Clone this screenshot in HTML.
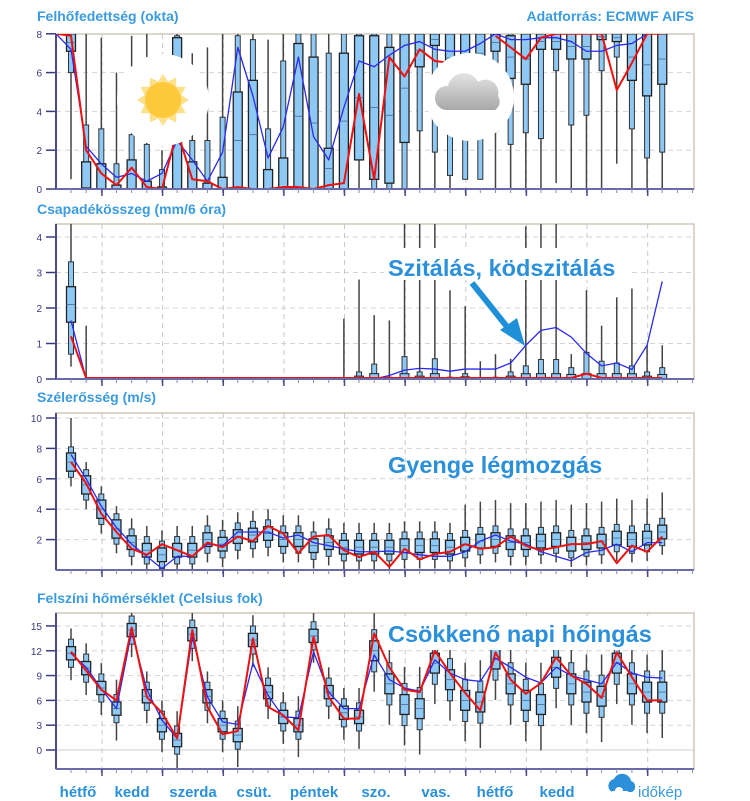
<!DOCTYPE html>
<html><head><meta charset="utf-8"><style>
html,body{margin:0;padding:0;background:#fff;}
svg{display:block;font-family:"Liberation Sans",sans-serif;}
</style></head><body>
<svg id="s" width="750" height="801" viewBox="0 0 750 801" xmlns="http://www.w3.org/2000/svg">
<g id="g"></g>
<g id="txt" font-weight="bold" fill="#3b9be0">
<text x="37" y="21" font-size="14">Felhőfedettség (okta)</text>
<text x="694" y="21" font-size="14" text-anchor="end">Adatforrás: ECMWF AIFS</text>
<text x="37" y="214" font-size="14">Csapadékösszeg (mm/6 óra)</text>
<text x="37" y="402" font-size="14">Szélerősség (m/s)</text>
<text x="37" y="603" font-size="14">Felszíni hőmérséklet (Celsius fok)</text>
</g>
</svg>
<script>
(function(){
var NS="http://www.w3.org/2000/svg",G=document.getElementById('g'),CUR=G;
function el(t,a,p){var e=document.createElementNS(NS,t);for(var q in a)e.setAttribute(q,a[q]);(p||CUR).appendChild(e);return e;}
function X(k){return 71+15.16*k;}
var L=56,R=694;
var P=[
 {top:34,bot:189,z:189,s:19.4,ticks:[0,2,4,6,8]},
 {top:224,bot:379,z:379,s:35.5,ticks:[0,1,2,3,4]},
 {top:413,bot:570,z:570,s:15.2,ticks:[2,4,6,8,10]},
 {top:613,bot:769,z:750,s:8.27,ticks:[0,3,6,9,12,15]}
];
var days=[102,162.6,223.3,283.9,344.5,405.2,465.8,526.4,587,647.7];
var DEFS=el('defs',{},G);
P.forEach(function(p,pi){
 el('rect',{x:L,y:p.top,width:R-L,height:p.bot-p.top,fill:'#fff',stroke:'#cfc7b8','stroke-width':1.5},G);
 p.ticks.forEach(function(v){var y=p.z-v*p.s;
  if(v!=0||pi==3)el('line',{x1:L,x2:R,y1:y,y2:y,stroke:(v==0&&pi==3)?'#ccc':'#d4d4d4','stroke-dasharray':(v==0&&pi==3)?'':'5,4','stroke-width':1},G);
  el('line',{x1:46,x2:L,y1:y,y2:y,stroke:'#3b3b80','stroke-width':1.5},G);
  var t=el('text',{x:42,y:y+4,'font-size':10,'text-anchor':'end',fill:'#3b3b80'},G);t.textContent=v;});
 days.forEach(function(d){el('line',{x1:d,x2:d,y1:p.top,y2:p.bot,stroke:'#c8c8c8','stroke-dasharray':'5,4'},G);});
 var cp=el('clipPath',{id:'c'+pi},DEFS);el('rect',{x:L,y:p.top,width:R-L,height:p.bot-p.top},cp);
 p.g=el('g',{'clip-path':'url(#c'+pi+')'},G);
});
function axes(){P.forEach(function(p){
 el('line',{x1:L,x2:L,y1:p.top,y2:p.bot,stroke:'#4a4a88','stroke-width':2},G);
 el('line',{x1:L,x2:R,y1:p.bot,y2:p.bot,stroke:'#6a6aa8','stroke-width':2},G);
 for(var i=-1;i<42;i++){var x=X(i);if(x<L||x>R)continue;el('line',{x1:x,x2:x,y1:p.bot,y2:p.bot+4,stroke:'#8a8ab8','stroke-width':1},G);}
 days.forEach(function(d){el('line',{x1:d,x2:d,y1:p.bot,y2:p.bot+7,stroke:'#4a4a88','stroke-width':1.5},G);});
});}
function box(p,k,wl,wh,nl,nh,ql,qh,md){
 var x=X(k),Y=function(v){return P[p].z-v*P[p].s;};
 el('line',{x1:x,x2:x,y1:Y(wl),y2:Y(wh),stroke:'#444','stroke-width':1.5});
 el('rect',{x:x-2.5,y:Y(nh),width:5,height:Math.max(1,Y(nl)-Y(nh)),fill:'#8ec8f5',stroke:'#333','stroke-width':1});
 el('rect',{x:x-4.5,y:Y(qh),width:9,height:Math.max(1,Y(ql)-Y(qh)),fill:'#8ec8f5',stroke:'#222','stroke-width':1.3});
 if(md!=null)el('line',{x1:x-4.5,x2:x+4.5,y1:Y(md),y2:Y(md),stroke:'#4a6a8a','stroke-width':0.8});
}
function line(p,arr,col,w,start){var pts=[];if(start!=null)pts.push(L+','+(P[p].z-start*P[p].s));
 arr.forEach(function(v,k){if(v!=null)pts.push(X(k)+','+(P[p].z-v*P[p].s));});
 el('polyline',{points:pts.join(' '),fill:'none',stroke:col,'stroke-width':w,'stroke-linejoin':'round'});}
// CLOUD
CUR=P[0].g;
var cq=[[7.1,8,6],[0.05,1.4,3.3],[0,1.3,3.1],[0,0.2,1.3],[0,1.5,2.8],[0,0.4,2.3],[0,0.1,1.0],[0,7.8,7.9],[0,1.4,2.5],[0,0.3,2.5],[0,0.6,3.7],[0,5,7.9],[0,5.6,7.7],[0,1,3.1],[0,1.6,6.6],[0,7.5,8],[0,6.8,8],[0,2.1,7],[0,7,8],[1.5,7.9,8],
[0.5,7.9,8],[0.3,7.3,8],[2.4,8,8],[6.3,8,8],[7.4,8,8],[5.5,8,8],[4.5,8,8],[6,8,8],[7.1,8,8],[5.7,7.9,8],[5.4,8,8],[7.2,8,8],[7.2,8,8],[6.7,8,8],[6.7,8,8],[7.7,8,8],[7.6,8,8],[5.6,8,8],[4.8,8,8],[5.4,8,8]];
var cn=[6,0,0,0,0,0,0,0,0,0,0,0,0,0,0,0,0,0,0,0.2,0,0,0,3,1.9,0.7,0.5,0.5,3,2.3,2.9,2.6,6.1,3.3,3.8,6.1,6.8,3.1,1.6,1.9];
var cw=[0.5,0,0,0,0,0,0,0,0,0,0,0,0,0,0,0,0,0,0,0,0,0,0,0,0,0,0.5,1,0,0,0,0,0.3,0,0,0,1.3,0,0,0];
var cwh=[8,8,7.8,6,7.9,8,2,8,7,7.3,8,8,8,7.7,8,8,8,8,8,8];
cq.forEach(function(q,k){var nl=(k<20)?q[0]:cn[k];var nh=(k<20)?q[2]:8;if(k==0){nl=6;nh=8;}
 box(0,k,cw[k],k<20?cwh[k]:8,Math.min(nl,q[0]),nh,q[0],q[1],q[1]>2?(q[0]+q[1])/2:null);});
var cr=[7.9,2.0,0.8,0.2,1.1,0.1,0,3,0.5,0.4,0,0.1,0,0,0.1,0.1,0,0.2,0.3,4.9,0.5,6.8,5.8,7.2,6.6,6.5,null,null,7.9,7.3,6.7,7.8,8,8,8,8,5.1,6.5,8,8];
var cb=[7.2,2.2,1.3,0.6,0.8,0.4,0.8,2.5,1.5,0.4,1.9,7.3,4.8,1.6,3.2,6.8,2.7,1.5,4.2,6.6,6.3,6.9,7.4,7.6,7.2,7.1,7.1,7.5,8,7.7,7.7,7.8,7.8,7.6,7.1,7.1,7.4,7.5,8,8];
line(0,cb,'#2a2aee',1.3,8);
line(0,cr.slice(0,26),'#ee1111',2,8);
el('polyline',{points:cr.map(function(v,k){return v==null?null:X(k)+','+(189-v*19.4);}).slice(28).join(' '),fill:'none',stroke:'#ee1111','stroke-width':2});
var sp=[];for(var i=0;i<24;i++){var a=i*Math.PI/12,r=i%2?19:26;sp.push((163+r*Math.cos(a))+','+(100+r*Math.sin(a)));}
var gd=el('linearGradient',{id:'cg',x1:0,y1:0,x2:0,y2:1},DEFS);
el('stop',{offset:0,'stop-color':'#e4e4e4'},gd);el('stop',{offset:1,'stop-color':'#a8a8a8'},gd);
el('circle',{cx:163,cy:100,r:46,fill:'#fff'});
el('polygon',{points:sp.join(' '),fill:'#fde08a'});
el('circle',{cx:163,cy:100,r:18,fill:'#fcc93a'});
el('circle',{cx:470,cy:97,r:44,fill:'#fff'});
el('path',{d:'M446,110 a12,12 0 0 1 2,-24 a16,16 0 0 1 30,-4 a13,13 0 0 1 20,14 a10,10 0 0 1 -3,14 z',fill:'url(#cg)'});
// PRECIP
CUR=P[1].g;
box(1,0,0.35,4.5,0.7,3.3,1.6,2.6,2.1);
el('line',{x1:X(1),x2:X(1),y1:379,y2:379-1.5*35.5,stroke:'#444','stroke-width':1.5});
var pw=[1.7,2.8,1.8,1.65,9,9,9,2.5,2.05,0.5,0.7,0.57,4.3,9,9,0.7,2.5,1.5,2.3,2.55,0.95,0.95];
var pb=[0,0.2,0.42,0.05,0.63,0.2,0.57,0.05,0.15,0.03,0.05,0.2,0.37,0.55,0.55,0.32,0.75,0.5,0.45,0.37,0.2,0.32];
for(var j=0;j<22;j++){var kk=18+j,x=X(kk);var ty=pw[j]>4.6?224:379-pw[j]*35.5;
 el('line',{x1:x,x2:x,y1:379,y2:ty,stroke:'#444','stroke-width':1.5});
 if(pb[j]){el('rect',{x:x-2.5,y:379-pb[j]*35.5,width:5,height:pb[j]*35.5,fill:'#8ec8f5',stroke:'#333'});
  var h=Math.min(0.15,pb[j]*0.4)*35.5;el('rect',{x:x-4.5,y:379-h,width:9,height:h,fill:'#8ec8f5',stroke:'#222'});}}
var pbl=[[0,1.65],[1,0],[20,0],[21,0.1],[22,0.25],[23,0.3],[24,0.28],[25,0.22],[26,0.28],[27,0.28],[28,0.28],[29,0.45],[30,0.95],[31,1.37],[32,1.45],[33,1.18],[34,0.72],[35,0.37],[36,0.45],[37,0.27],[38,0.95],[39,2.75]];
el('polyline',{points:pbl.map(function(p){return X(p[0])+','+(379-p[1]*35.5);}).join(' '),fill:'none',stroke:'#2a2aee','stroke-width':1.3});
el('polyline',{points:[X(0)+','+(379-1.2*35.5),X(1)+',378',X(33)+',378',X(34)+','+(379-0.15*35.5),X(35)+',378',X(39)+',378'].join(' '),fill:'none',stroke:'#ee1111','stroke-width':2});
el('rect',{x:384,y:248,width:244,height:32,fill:'#fff'});
var t=el('text',{x:388,y:276,'font-size':23.5,'font-weight':'bold',fill:'#2b90d9'});t.textContent='Szitálás, ködszitálás';
el('line',{x1:472,x2:512,y1:283,y2:333,stroke:'#1f8fd8','stroke-width':6});
el('polygon',{points:'525,346 500,330 517,318',fill:'#1f8fd8'});
// WIND
CUR=P[2].g;
var wr=[7.1,5.7,3.7,2.5,1.4,1.0,1.7,1.3,0.9,1.8,1.5,2.2,1.9,2.9,2.4,1.1,2.2,2.3,1.3,0.85,1.2,0.2,1.4,0.7,1.05,1.2,1.7,1.4,1.5,2.2,1.6,1.3,1.5,1.7,1.7,1.9,0.45,1.6,1.2,2.2];
var wb=[7.6,6.0,4.2,2.8,1.7,0.9,0.1,0.9,0.9,1.7,1.6,2.5,2.5,2.5,2.1,2.3,1.8,1.6,1.4,1.2,1.2,1.25,1.15,1.0,0.9,0.9,1.2,1.9,2.3,1.9,1.7,1.2,0.9,0.6,1.15,1.3,1.7,1.2,1.8,1.8];
var wc=[7.1,5.6,4.0,2.7,1.8,1.3,1.0,1.3,1.3,2.0,1.7,2.2,2.3,2.4,2.0,2.0,1.6,1.8,1.5,1.5,1.5,1.5,1.6,1.6,1.6,1.5,1.7,1.9,2.0,1.8,1.8,1.9,2.0,1.7,1.8,1.9,2.1,2.0,2.1,2.5];
wc.forEach(function(c,k){var s=k<4?0.6:0.45,n=k<4?1.0:0.9,wh=k<4?c+1.5:c+(k>25?2.6:1.6);if(k==0)wh=10;
 box(2,k,Math.max(0,c-n-0.6),wh,Math.max(0,c-n),c+n,Math.max(0,c-s),c+s,c);});
line(2,wb,'#2a2aee',1.3);line(2,wr,'#ee1111',2);
t=el('text',{x:388,y:473,'font-size':23.5,'font-weight':'bold',fill:'#2b90d9'});t.textContent='Gyenge légmozgás';
// TEMP
CUR=P[3].g;
var tr=[11.9,9.6,7.3,6.0,14.8,6.4,4.5,1.4,14.5,5.2,1.9,2.3,13.5,5.2,4.2,2.4,13.7,6.4,3.8,3.8,14.1,10,7.3,7.0,12,9.3,6.9,4.8,11.8,8.5,6.8,8.1,11.2,9,8,6.3,11.8,8.8,6,6];
var tb=[11.7,10.0,7.4,5.0,14.3,7.3,3.6,1.4,13.7,6.4,3.4,3.1,10.5,6.6,4.0,3.9,11.9,7.0,5,5,11.5,8.5,7.5,7.1,10.9,9.3,8.5,8.3,11.1,10,8.8,8.1,10,9,8.5,8,10.6,9.3,8.8,8.7];
var tc=[11.7,9.9,7.5,5,14.5,6.5,3,1.2,14,6.5,3,1.8,13.3,7,4,3,13.8,7,4.5,4,12,8,5.5,5,10.5,8.5,6,5.8,11,8,6,5.5,10,8,7,6.5,10.5,8,7,7];
tc.forEach(function(c,k){var f=k<20?1:1.5;var s=0.8*f,n=1.7*f,w=(k<20?2.6:4)+(k%4==3?1:0);
 box(3,k,c-n-w*0.6,c+n+w*0.5,c-n,c+n,c-s,c+s,c);});
line(3,tb,'#2a2aee',1.3);line(3,tr,'#ee1111',2);
el('rect',{x:384,y:616,width:276,height:34,fill:'#fff'});
t=el('text',{x:388,y:642,'font-size':23.5,'font-weight':'bold',fill:'#2b90d9'});t.textContent='Csökkenő napi hőingás';
CUR=G;
axes();
var dl=[['hétfő',78],['kedd',132],['szerda',193],['csüt.',254],['péntek',314],['szo.',376],['vas.',436],['hétfő',495],['kedd',557]];
dl.forEach(function(d){var e=el('text',{x:d[1],y:797,'font-size':15,'font-weight':'bold','text-anchor':'middle',fill:'#2b90d9'});e.textContent=d[0];});
el('path',{d:'M612,792 a7,7 0 0 1 2,-13 a9,9 0 0 1 17,2 a6,6 0 0 1 1,11 z',fill:'#2b90d9'});
el('circle',{cx:619,cy:791,r:4,fill:'#fff'});
el('rect',{x:612,y:791,width:16,height:2,fill:'#fff'});
var lg=el('text',{x:638,y:797,'font-size':15,fill:'#3a9ae0'});lg.textContent='időkép';
})();
</script>
</body></html>
